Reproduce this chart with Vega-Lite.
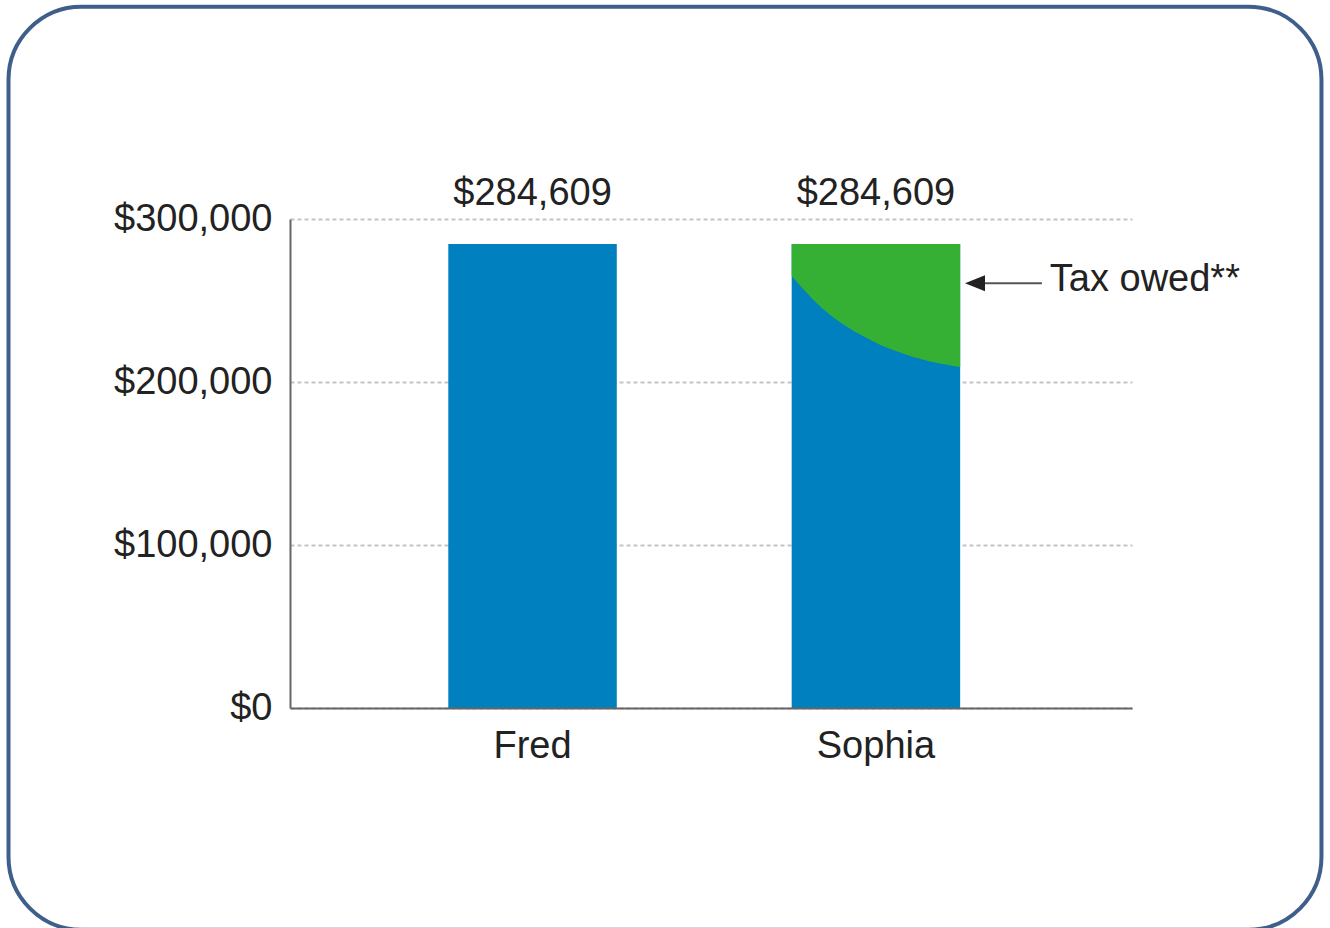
{
  "$schema": "https://vega.github.io/schema/vega-lite/v6.json",
  "width": 842,
  "height": 489,
  "autosize": {"type": "none"},
  "padding": {"left": 290, "top": 219, "right": 198, "bottom": 220},
  "background": "white",
  "config": {
    "view": {"stroke": null},
    "font": "Liberation Sans",
    "axis": {"labelFont": "Liberation Sans", "labelFontSize": 38, "labelColor": "#222222", "ticks": false, "title": null, "domainColor": "#666666", "domainWidth": 2}
  },
  "datasets": {
    "totals": [
      {"person": "Fred", "value": 284609},
      {"person": "Sophia", "value": 284609}
    ],
    "sophia_after_tax": [
      {"share": 0.0, "after_tax": 265000},
      {"share": 0.064, "after_tax": 257500},
      {"share": 0.128, "after_tax": 250500},
      {"share": 0.227, "after_tax": 241300},
      {"share": 0.326, "after_tax": 234100},
      {"share": 0.425, "after_tax": 228000},
      {"share": 0.524, "after_tax": 222900},
      {"share": 0.623, "after_tax": 218800},
      {"share": 0.722, "after_tax": 215300},
      {"share": 0.821, "after_tax": 212600},
      {"share": 0.920, "after_tax": 210600},
      {"share": 1.0, "after_tax": 209200}
    ]
  },
  "layer": [
    {
      "data": {"name": "totals"},
      "layer": [
        {
          "mark": {"type": "bar", "color": "#0080be"},
          "encoding": {
            "x": {
              "field": "person", "type": "nominal", "sort": null,
              "scale": {"paddingInner": 0.5093, "paddingOuter": 0.4807, "align": 0.4795},
              "axis": {"labelAngle": 0, "labelPadding": 19, "zindex": 1}
            },
            "y": {
              "field": "value", "type": "quantitative",
              "scale": {"domain": [0, 300000]},
              "axis": {"values": [0, 100000, 200000, 300000], "format": "$,.0f", "labelPadding": 18, "grid": true, "gridColor": "#c4c4c4", "gridDash": [4, 3], "gridWidth": 2}
            }
          }
        },
        {
          "mark": {"type": "text", "fontSize": 38, "font": "Liberation Sans", "baseline": "alphabetic", "dy": -39, "color": "#222222"},
          "encoding": {
            "x": {"field": "person", "type": "nominal", "sort": null},
            "y": {"field": "value", "type": "quantitative", "scale": {"domain": [0, 300000]}},
            "text": {"field": "value", "type": "quantitative", "format": "$,.0f"}
          }
        }
      ]
    },
    {
      "layer": [
        {
          "data": {"name": "sophia_after_tax"},
          "mark": {"type": "area", "color": "#35b034", "interpolate": "monotone"},
          "encoding": {
            "x": {"field": "share", "type": "quantitative", "scale": {"domain": [-2.9774, 2.0196], "nice": false, "zero": false}, "axis": null},
            "y": {"field": "after_tax", "type": "quantitative", "scale": {"domain": [0, 300000]}},
            "y2": {"datum": 284609}
          }
        },
        {
          "data": {"values": [{}]},
          "mark": {"type": "rule", "color": "#555555", "strokeWidth": 2},
          "encoding": {
            "x": {"datum": 1.147, "type": "quantitative", "scale": {"domain": [-2.9774, 2.0196], "nice": false, "zero": false}, "axis": null},
            "x2": {"datum": 1.485},
            "y": {"datum": 260600, "type": "quantitative", "scale": {"domain": [0, 300000]}}
          }
        },
        {
          "data": {"values": [{}]},
          "mark": {"type": "point", "shape": "M1,-0.8L-1,0L1,0.8Z", "size": 400, "filled": true, "color": "#222222", "opacity": 1},
          "encoding": {
            "x": {"datum": 1.088, "type": "quantitative", "scale": {"domain": [-2.9774, 2.0196], "nice": false, "zero": false}, "axis": null},
            "y": {"datum": 260600, "type": "quantitative", "scale": {"domain": [0, 300000]}}
          }
        },
        {
          "data": {"values": [{}]},
          "mark": {"type": "text", "text": "Tax owed**", "fontSize": 38, "font": "Liberation Sans", "align": "left", "baseline": "alphabetic", "dy": 8, "color": "#222222"},
          "encoding": {
            "x": {"datum": 1.532, "type": "quantitative", "scale": {"domain": [-2.9774, 2.0196], "nice": false, "zero": false}, "axis": null},
            "y": {"datum": 260600, "type": "quantitative", "scale": {"domain": [0, 300000]}}
          }
        },
        {
          "data": {"values": [{}]},
          "mark": {"type": "rect", "filled": false, "color": "#3e5f8a", "strokeWidth": 4, "cornerRadius": 73},
          "encoding": {
            "x": {"datum": -4.648, "type": "quantitative", "scale": {"domain": [-2.9774, 2.0196], "nice": false, "zero": false}, "axis": null},
            "x2": {"datum": 3.144},
            "y": {"datum": 430248, "type": "quantitative", "scale": {"domain": [0, 300000]}},
            "y2": {"datum": -136013}
          }
        }
      ]
    }
  ],
  "resolve": {"scale": {"x": "independent"}}
}
